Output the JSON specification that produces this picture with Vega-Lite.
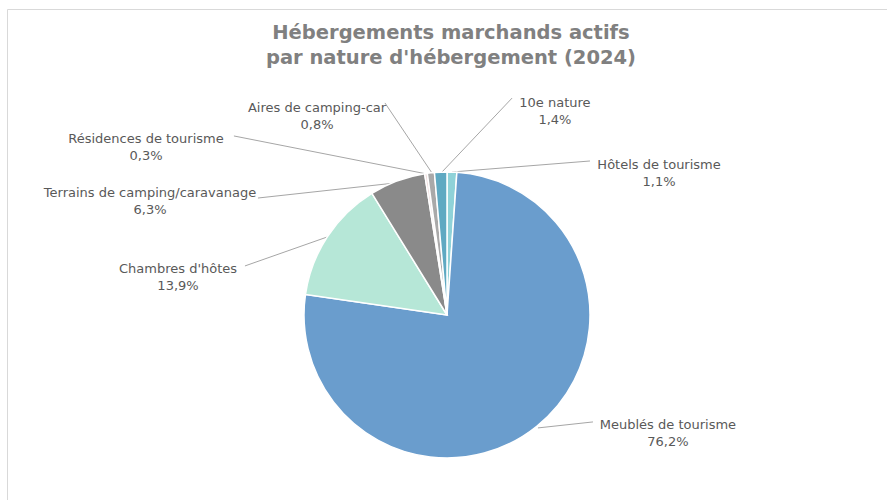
{
  "$schema": "https://vega.github.io/schema/vega-lite/v6.json",
  "width": 880,
  "height": 491,
  "autosize": {"type": "none"},
  "padding": {"left": 7, "top": 9, "right": 0, "bottom": 0},
  "background": "white",
  "config": {"view": {"stroke": "#d9d9d9", "strokeWidth": 1}},
  "title": {
    "text": ["Hébergements marchands actifs", "par nature d'hébergement (2024)"],
    "font": "DejaVu Sans",
    "fontSize": 19.5,
    "fontWeight": "bold",
    "color": "#808080",
    "lineHeight": 25,
    "anchor": "middle",
    "frame": "group",
    "offset": -59,
    "dx": 4
  },
  "datasets": {
    "slices": [
      {"name": "Hôtels de tourisme", "value": 1.1, "i": 1, "lx": 148.3, "ly": 104.9, "sx": 100.0, "sy": 107.7, "ex": 3.5, "ey": 100.0},
      {"name": "Meublés de tourisme", "value": 76.2, "i": 2, "lx": 154.5, "ly": -76.9, "sx": 102.1, "sy": -74.8, "ex": 63.6, "ey": -79.0},
      {"name": "Chambres d'hôtes", "value": 13.9, "i": 3, "lx": -188.1, "ly": 32.2, "sx": -141.3, "sy": 34.3, "ex": -83.9, "ey": 54.5},
      {"name": "Terrains de camping/caravanage", "value": 6.3, "i": 4, "lx": -207.7, "ly": 85.0, "sx": -132.2, "sy": 81.8, "ex": -36.4, "ey": 92.3},
      {"name": "Résidences de tourisme", "value": 0.3, "i": 5, "lx": -210.5, "ly": 123.1, "sx": -149.0, "sy": 125.2, "ex": -14.0, "ey": 98.6},
      {"name": "Aires de camping-car", "value": 0.8, "i": 6, "lx": -90.9, "ly": 145.1, "sx": -43.4, "sy": 148.3, "ex": -10.5, "ey": 99.3},
      {"name": "10e nature", "value": 1.4, "i": 7, "lx": 75.5, "ly": 148.6, "sx": 45.5, "sy": 151.7, "ex": -3.5, "ey": 100.0}
    ]
  },
  "data": {"name": "slices"},
  "layer": [
    {
      "mark": {"type": "rule", "color": "#a6a6a6", "strokeWidth": 1},
      "encoding": {
        "x": {"field": "sx", "type": "quantitative", "scale": {"domain": [-307.7, 307.7], "nice": false, "zero": false}, "axis": null},
        "y": {"field": "sy", "type": "quantitative", "scale": {"domain": [-129.4, 214.0], "nice": false, "zero": false}, "axis": null},
        "x2": {"field": "ex"},
        "y2": {"field": "ey"}
      }
    },
    {
      "mark": {"type": "arc", "outerRadius": 143, "stroke": "white", "strokeWidth": 1.5},
      "encoding": {
        "x": {"datum": 0, "type": "quantitative", "scale": {"domain": [-307.7, 307.7], "nice": false, "zero": false}, "axis": null},
        "y": {"datum": 0, "type": "quantitative", "scale": {"domain": [-129.4, 214.0], "nice": false, "zero": false}, "axis": null},
        "theta": {"field": "value", "type": "quantitative", "stack": true},
        "order": {"field": "i", "type": "quantitative"},
        "color": {
          "field": "name", "type": "nominal", "legend": null,
          "scale": {
            "domain": ["Hôtels de tourisme", "Meublés de tourisme", "Chambres d'hôtes", "Terrains de camping/caravanage", "Résidences de tourisme", "Aires de camping-car", "10e nature"],
            "range": ["#8fd2d8", "#6a9dcd", "#b6e7d7", "#8a8a8a", "#f0dede", "#a9a9a9", "#5fa9c2"]
          }
        }
      }
    },
    {
      "transform": [{"calculate": "[datum.name, replace(format(datum.value, '.1f'), '.', ',') + '%']", "as": "lbl"}],
      "mark": {"type": "text", "font": "DejaVu Sans", "fontSize": 13, "color": "#595959", "align": "center", "baseline": "middle", "lineHeight": 17},
      "encoding": {
        "x": {"field": "lx", "type": "quantitative", "scale": {"domain": [-307.7, 307.7], "nice": false, "zero": false}, "axis": null},
        "y": {"field": "ly", "type": "quantitative", "scale": {"domain": [-129.4, 214.0], "nice": false, "zero": false}, "axis": null},
        "text": {"field": "lbl"}
      }
    }
  ]
}
